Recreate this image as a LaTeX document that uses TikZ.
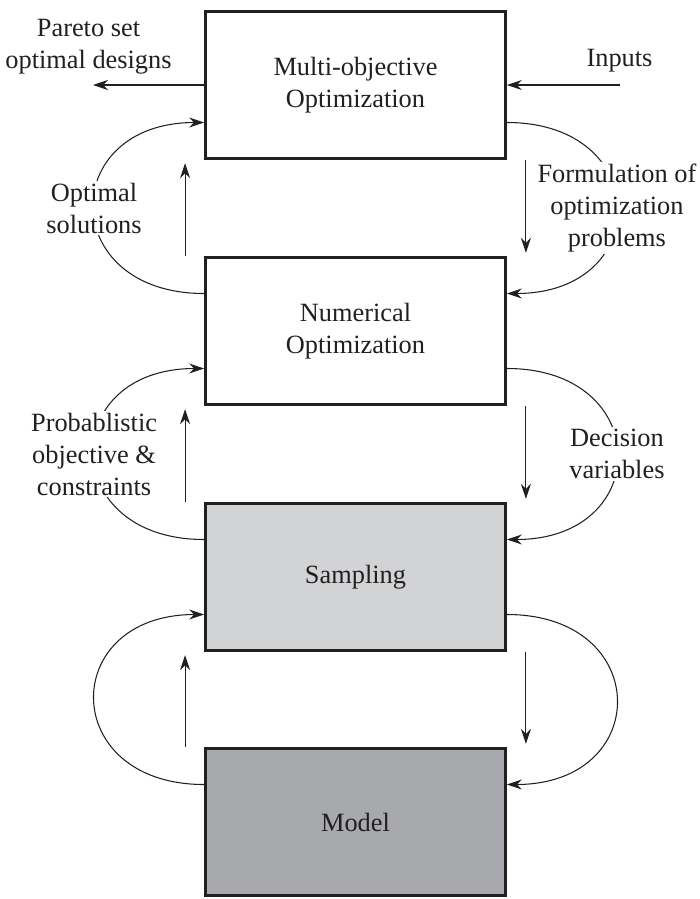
\documentclass[tikz,border=0pt]{standalone}
\usepackage{fontspec}
\setmainfont{Liberation Serif}
\usetikzlibrary{arrows.meta}
\definecolor{ink}{HTML}{231F20}
\definecolor{lightgrey}{HTML}{D1D3D4}
\definecolor{midgrey}{HTML}{A7A9AC}
\begin{document}
\begin{tikzpicture}[ink,
  box/.style={draw=ink,line width=1.6pt,minimum width=6cm,minimum height=2.95cm,align=center},
  flow/.style={-{Stealth[length=0.3cm,width=0.2cm,inset=0.1cm]},line width=0.6pt},
  lbl/.style={fill=white,inner sep=1pt,align=center}]
\fontsize{15}{18.2}\selectfont
\useasboundingbox(0,0)rectangle(14,-17.98);
% the four stages
\node[box](multi)at(7.11,-1.7){Multi-objective\\Optimization};
\node[box](numer)at(7.11,-6.62){Numerical\\Optimization};
\node[box,fill=lightgrey](sampl)at(7.11,-11.54){Sampling};
\node[box,fill=midgrey](model)at(7.11,-16.44){Model};
% in and out of the top box
\node[align=center](pareto)at(1.77,-0.93){Pareto set\\optimal designs};
\node(inputs)at(12.39,-1.21){Inputs};
\coordinate(paretoend)at(1.86,-1.7);
\coordinate(inputstart)at(12.4,-1.7);
\draw[flow](multi.west)--(paretoend);
\draw[flow](inputstart)--(multi.east);
% straight arrows between the boxes
\foreach \up/\dn in {multi/numer,numer/sampl,sampl/model}{
  \draw[flow]([xshift=-0.38cm]\dn.north west)--([xshift=-0.38cm,yshift=-0.06cm]\up.south west);
  \draw[flow]([xshift=0.38cm]\up.south east)--([xshift=0.38cm,yshift=0.06cm]\dn.north east);
}
% loops on the left
\draw[flow]([yshift=0.75cm]numer.west)to[out=180,in=180,looseness=2.2]node[lbl]{Optimal\\solutions}([yshift=-0.75cm]multi.west);
\draw[flow]([yshift=0.75cm]sampl.west)to[out=180,in=180,looseness=2.2]node[lbl]{Probablistic\\objective \&\\constraints}([yshift=-0.75cm]numer.west);
\draw[flow]([yshift=0.75cm]model.west)to[out=180,in=180,looseness=2.2]([yshift=-0.75cm]sampl.west);
% loops on the right
\draw[flow]([yshift=-0.75cm]multi.east)to[out=0,in=0,looseness=2.2]node[lbl]{Formulation of\\optimization\\problems}([yshift=0.75cm]numer.east);
\draw[flow]([yshift=-0.75cm]numer.east)to[out=0,in=0,looseness=2.2]node[lbl]{Decision\\variables}([yshift=0.75cm]sampl.east);
\draw[flow]([yshift=-0.75cm]sampl.east)to[out=0,in=0,looseness=2.2]([yshift=0.75cm]model.east);
\end{tikzpicture}
\end{document}
